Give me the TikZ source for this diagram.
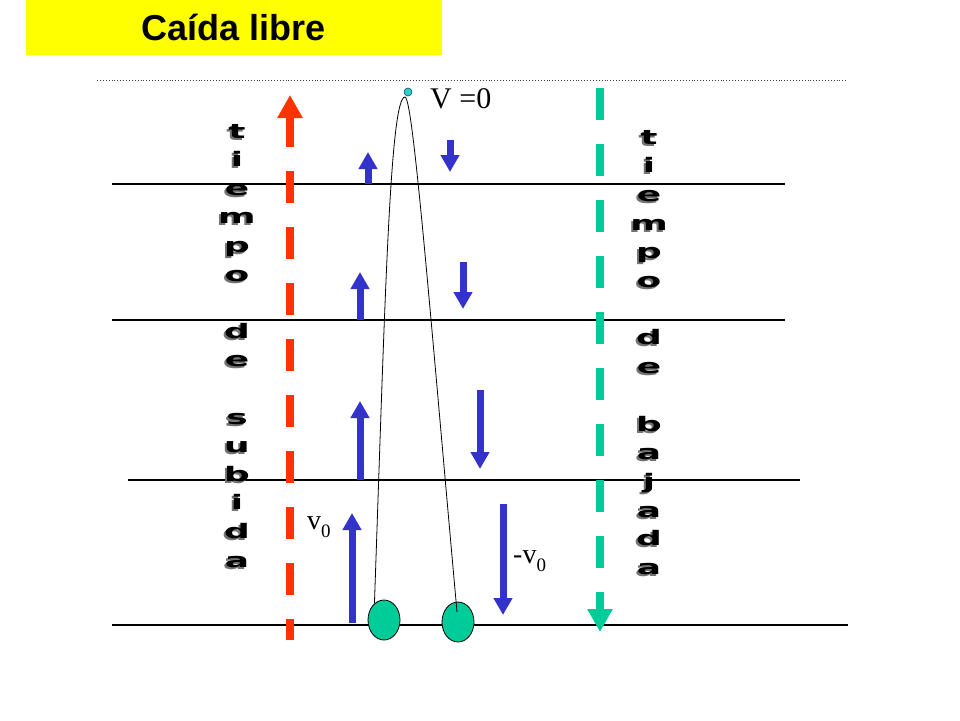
\documentclass[tikz,border=0pt]{standalone}
\usepackage{fontspec}
\setmainfont{Liberation Serif}
\newfontfamily\titlefont{Liberation Sans}
\newfontfamily\wordart{DejaVu Sans}
\usetikzlibrary{arrows.meta,shapes.geometric}
\definecolor{fallred}{HTML}{FF3300}
\definecolor{fallgreen}{HTML}{00CC99}
\definecolor{fallblue}{HTML}{3333CC}
\definecolor{fallyellow}{HTML}{FFFF00}
\definecolor{dotteal}{HTML}{33CCCC}
\newcommand{\wide}[1]{\scalebox{1.8}[1]{#1}}
\tikzset{level/.style={line width=1.2pt},
    vel/.style={fallblue,line width=7pt,-{Triangle[width=18pt,length=17pt]}},
    timeline/.style={line width=8pt,dash pattern=on 32pt off 24pt,-{Triangle[width=24pt,length=23pt]}},
    ball/.style={ellipse,draw,line width=0.8pt,fill=fallgreen,minimum width=32pt,minimum height=40pt,inner sep=0pt},
    letter/.style={anchor=base,inner sep=0pt,font=\wordart\bfseries\fontsize{20}{20}\selectfont},
    lbl/.style={anchor=base west,inner sep=0pt,font=\fontsize{28}{28}\selectfont},
    }

\begin{document}
\begin{tikzpicture}[x=1pt,y=-1pt]
	\useasboundingbox (0,0) rectangle (960,720);
	\node[fill=fallyellow,minimum width=416pt,minimum height=55pt,inner sep=0pt,
		font=\titlefont\bfseries\fontsize{36}{36}\selectfont] (title) at (234,27.5) {Caída libre};
	% levels
	\draw[black!75,dotted,line width=0.9pt] (97,80) -- (848,80);
	\draw[level] (112,184) -- (785,184);
	\draw[level] (112,320) -- (785,320);
	\draw[level] (128,480) -- (800,480);
	\draw[level] (112,625) -- (848,625);
	% time arrows
	\draw[timeline,fallred,dash phase=11pt] (290,640) -- (290,95);
	\draw[timeline,fallgreen] (600,88) -- (600,632);
	\foreach \c [count=\k from 0] in {t,i,e,m,p,o,,d,e,,s,u,b,i,d,a}{
		\node[letter,black!55] (up\k s) at (235,140+28.6*\k) {\wide{\c}};
		\node[letter] (up\k) at (237,138+28.6*\k) {\wide{\c}};
	}
	\foreach \c [count=\k from 0] in {t,i,e,m,p,o,,d,e,,b,a,j,a,d,a}{
		\node[letter,black!55] (dn\k s) at (647,146+28.7*\k) {\wide{\c}};
		\node[letter] (dn\k) at (649,144+28.7*\k) {\wide{\c}};
	}
	% velocities
	\foreach \x/\ya/\yb in {368/184/152,360/320/272,360/480/401,352/623/513,
		450/140/172,463/262/309,480/390/469,503/504/615}
		\draw[vel] (\x,\ya) -- (\x,\yb);
	% path of the ball
	\node[ball] (ballA) at (384,620) {};
	\node[ball] (ballB) at (458,622) {};
	\coordinate (apex) at (405,97);
	\coordinate (landing) at (457,612);
	\draw[line width=0.8pt] (ballA.120)..controls (385,300) and (390,97)..(apex)
		..controls (413,97) and (430,312)..(landing);
	\node[circle,draw=teal!70!black,fill=dotteal,line width=0.6pt,minimum size=8pt,inner sep=0pt] (top) at (408,92) {};
	\node[lbl,font=\fontsize{30}{30}\selectfont] (vtop) at (430,108) {V =0};
	\node[lbl] (vup) at (307,529) {v\raisebox{-0.3em}{\fontsize{19}{19}\selectfont 0}};
	\node[lbl] (vdown) at (513,563) {-v\raisebox{-0.3em}{\fontsize{19}{19}\selectfont 0}};
\end{tikzpicture}
\end{document}
